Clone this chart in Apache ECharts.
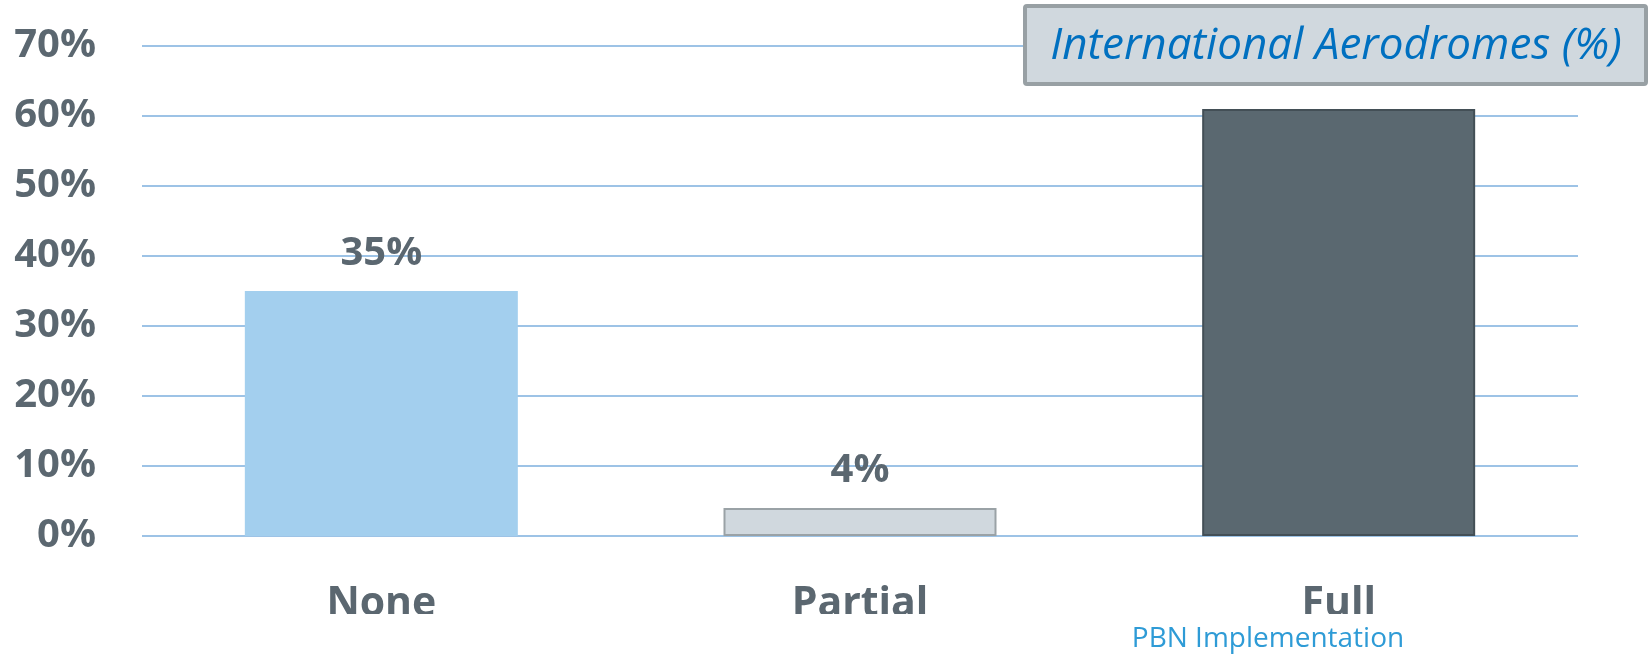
<!DOCTYPE html>
<html><head><meta charset="utf-8">
<script src="https://cdn.jsdelivr.net/npm/echarts@6/dist/echarts.min.js"></script>
<style>html,body{margin:0;padding:0;background:#fff}#c{width:1650px;height:656px}</style>
</head><body><div id="c"></div>
<script>
const categories = ['None', 'Partial', 'Full'];
const values = [35, 4, 61];
const yTicks = [0, 10, 20, 30, 40, 50, 60, 70];
const titleText = 'International Aerodromes (%)';
const xAxisName = 'PBN Implementation';

const barStyles = [
  {color: '#A3CFEE', borderWidth: 0},
  {color: '#D0D8DE', borderColor: '#9AA2A6', borderWidth: 2},
  {color: '#5A6870', borderColor: '#434F56', borderWidth: 2}
];

const chart = echarts.init(document.getElementById('c'));
chart.setOption({
  animation: false,
  grid: {left: 142, right: 72, top: 46, bottom: 120},
  xAxis: {
    type: 'category', data: categories,
    axisLine: {show: false}, axisTick: {show: false},
    axisLabel: {margin: 48, fontSize: 41, fontWeight: 'bold', color: '#5B6770', fontFamily: 'Open Sans'}
  },
  yAxis: {
    type: 'value', min: 0, max: 70, interval: 10,
    axisLine: {show: false}, axisTick: {show: false},
    splitLine: {lineStyle: {color: '#9DC3E6', width: 2}},
    axisLabel: {margin: 46, fontSize: 40, fontWeight: 'bold', color: '#5B6770', fontFamily: 'Open Sans',
      formatter: v => v + '%'}
  },
  series: [{
    type: 'bar', barWidth: 273,
    data: values.map((v, i) => ({value: v, itemStyle: barStyles[i]})),
    label: {show: true, position: 'top', distance: 17, formatter: p => p.value + '%',
      fontSize: 40, fontWeight: 'bold', color: '#5B6770', fontFamily: 'Open Sans'},
    z: 2
  }],
  graphic: [
    {type: 'rect', z: 100, shape: {x: 0, y: 614, width: 1650, height: 12}, style: {fill: '#fff'}},
    {type: 'text', z: 101, x: 1268, y: 639, style: {text: xAxisName, fontSize: 28, fill: '#2E9BD6', fontFamily: 'Open Sans',
      textAlign: 'center', textVerticalAlign: 'middle'}},
    {type: 'rect', z: 100, shape: {x: 1025, y: 6, width: 621, height: 78, r: 2},
      style: {fill: '#D0D8DE', stroke: '#98A0A4', lineWidth: 4}},
    {type: 'text', z: 101, x: 1336, y: 46, style: {text: titleText, fontSize: 44, fontStyle: 'italic', fill: '#0070C0',
      fontFamily: 'Open Sans', textAlign: 'center', textVerticalAlign: 'middle'}}
  ]
});
</script></body></html>
